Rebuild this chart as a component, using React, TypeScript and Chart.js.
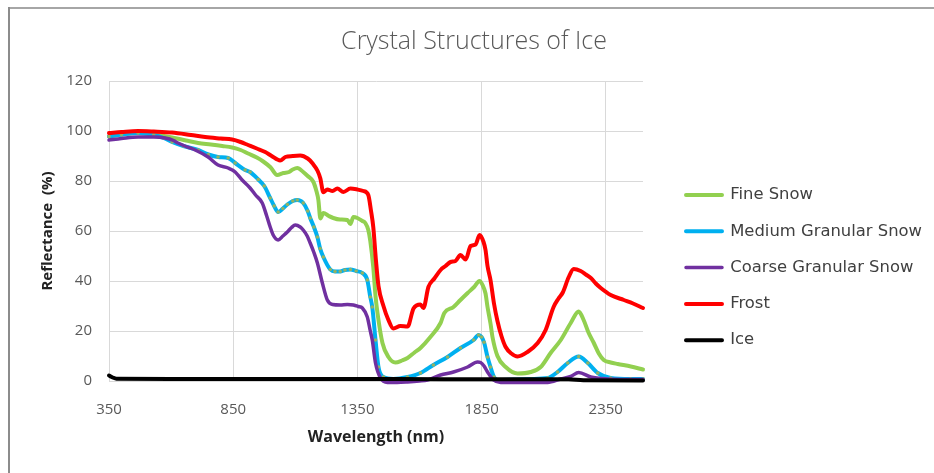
import { useEffect, useRef } from "react";
import { Chart, registerables } from "chart.js";

Chart.register(...registerables);

// Reflectance spectra, [wavelength nm, reflectance %]
const fineSnow: [number, number][] = [
  [350, 97.8], [400, 98.6], [467, 99.2], [530, 98.6], [604, 97.4], [660, 96.2], [709, 95.2], [760, 94.6],
  [806, 94], [846, 93.4], [880, 92.4], [910, 91], [945, 89.4], [971, 87.8], [1000, 85.5], [1027, 82.4],
  [1052, 83.2], [1075, 83.6], [1090, 84.6], [1108, 85.2], [1132, 83.6], [1150, 82], [1173, 79.6], [1185, 76],
  [1193, 72.4], [1201, 65], [1213, 67.2], [1235, 66], [1253, 65.2], [1280, 64.6], [1310, 64.4], [1322, 62.8],
  [1334, 65.6], [1350, 65.2], [1370, 64], [1382, 63.2], [1394, 60.4], [1402, 56], [1414, 45.6], [1423, 34],
  [1431, 27.2], [1451, 15.2], [1475, 9.6], [1503, 7.4], [1530, 8.2], [1552, 9.2], [1580, 11.4], [1604, 13.2],
  [1644, 17.6], [1685, 23.2], [1700, 27.2], [1737, 29.6], [1765, 32.4], [1794, 35.2], [1820, 37.6], [1842, 40],
  [1854, 38.4], [1866, 35], [1874, 29.6], [1886, 23], [1894, 17.6], [1914, 10], [1947, 5.6], [1995, 3],
  [2048, 3.6], [2088, 5.6], [2128, 11.2], [2169, 16.4], [2209, 23.2], [2241, 27.8], [2261, 24.4], [2280, 19.5],
  [2302, 15.2], [2322, 11], [2342, 8.4], [2370, 7.4], [2398, 6.8], [2451, 5.8], [2500, 4.6],
];

const mediumGranularSnow: [number, number][] = [
  [350, 97.8], [400, 98.6], [467, 99.2], [530, 98.4], [570, 97.2], [604, 95.6], [650, 94], [709, 92.4],
  [750, 90.6], [789, 89.6], [830, 89.2], [858, 87.2], [898, 84.4], [918, 83.6], [951, 80.6], [975, 78],
  [999, 73.2], [1015, 70], [1031, 67.6], [1050, 69], [1068, 70.6], [1090, 72], [1108, 72.4], [1132, 71.2],
  [1150, 68], [1160, 65.2], [1175, 61.6], [1189, 57.6], [1200, 53], [1213, 49.6], [1241, 44.6], [1260, 43.8],
  [1281, 43.8], [1300, 44.4], [1322, 44.6], [1345, 44], [1370, 43.2], [1390, 40.4], [1402, 33.6], [1410, 29.6],
  [1423, 16.4], [1435, 5.6], [1455, 1.6], [1495, 0.8], [1552, 1.6], [1604, 3.2], [1656, 6.4], [1713, 9.6],
  [1765, 13.2], [1818, 16.4], [1838, 18.4], [1850, 17.6], [1860, 15.5], [1874, 9.6], [1886, 5.6], [1900, 1.6],
  [1915, 0.4], [1979, 0.6], [2050, 0.8], [2116, 1.2], [2156, 3.6], [2197, 7.2], [2241, 9.8], [2278, 7.2],
  [2318, 3.2], [2370, 1.2], [2450, 0.8], [2500, 0.8],
];

const coarseGranularSnow: [number, number][] = [
  [350, 96.4], [400, 97], [467, 97.6], [530, 97.6], [576, 97.2], [610, 96.2], [628, 95.2], [660, 93.8],
  [697, 92.4], [749, 89.6], [789, 86.4], [830, 85.2], [858, 83.6], [886, 80.4], [918, 77.2], [940, 74.4],
  [967, 71.2], [985, 66], [999, 61.6], [1011, 58.4], [1031, 56.4], [1050, 58], [1068, 59.6], [1085, 61.4],
  [1100, 62.4], [1120, 61.6], [1132, 60.4], [1148, 58], [1160, 55.2], [1175, 51.4], [1189, 47.2], [1209, 39.2],
  [1229, 32.4], [1250, 30.6], [1281, 30.4], [1310, 30.6], [1334, 30.4], [1354, 29.8], [1370, 29.2], [1390, 25.6],
  [1402, 20], [1410, 16.4], [1423, 7.2], [1443, 1.2], [1471, -0.6], [1510, -0.6], [1552, -0.4], [1600, 0],
  [1632, 0.4], [1685, 2.4], [1737, 3.6], [1794, 5.6], [1834, 7.6], [1846, 7.4], [1860, 6], [1874, 3.6],
  [1898, 0.4], [1927, -0.6], [2000, -0.6], [2116, -0.6], [2169, 0.8], [2209, 1.8], [2241, 3.4], [2290, 1.6],
  [2358, 0.8], [2430, 0.6], [2500, 0.6],
];

const frost: [number, number][] = [
  [350, 99.2], [400, 99.6], [467, 100], [530, 99.8], [604, 99.4], [680, 98.4], [737, 97.6], [800, 97],
  [846, 96.6], [880, 95.6], [910, 94.4], [945, 93], [979, 91.6], [1005, 90], [1039, 88.2], [1060, 89.6],
  [1090, 90], [1120, 90.2], [1150, 89], [1170, 87], [1190, 84], [1201, 81], [1213, 75.5], [1229, 76.6],
  [1250, 76], [1269, 77], [1294, 75.6], [1322, 77], [1350, 76.6], [1374, 76], [1394, 74.4], [1405, 68],
  [1414, 61.6], [1425, 48], [1435, 38], [1455, 30], [1475, 24.4], [1495, 21], [1523, 22], [1552, 21.8],
  [1576, 29], [1604, 30.6], [1616, 29.2], [1636, 37.6], [1660, 41], [1685, 44.4], [1705, 46], [1725, 47.6],
  [1745, 48], [1765, 50.4], [1786, 48.6], [1806, 54], [1826, 54.6], [1842, 58.4], [1858, 55.6], [1866, 52.4],
  [1874, 46], [1886, 40.4], [1900, 31], [1914, 24], [1930, 18], [1947, 13.6], [1970, 11], [1995, 9.8],
  [2035, 11.6], [2076, 15.2], [2108, 20.4], [2140, 29.6], [2160, 33], [2177, 35.4], [2201, 41.6], [2221, 44.8],
  [2249, 44], [2270, 42.6], [2290, 41.2], [2310, 39], [2330, 37.2], [2370, 34.4], [2423, 32.4], [2460, 31],
  [2500, 29.2],
];

const ice: [number, number][] = [
  [350, 2.2], [365, 1.4], [380, 0.9], [600, 0.8], [1000, 0.8], [1500, 0.8], [1900, 0.7], [2200, 0.7],
  [2260, 0.3], [2500, 0.2],
];

const xTicks = [350, 850, 1350, 1850, 2350];
const yTicks = [0, 20, 40, 60, 80, 100, 120];

const TICK_FONT = { family: "'Open Sans', sans-serif", size: 15 };
const AXIS_TITLE_FONT = { family: "'Open Sans', sans-serif", weight: "bold" as const };

// Border frame + white background
const framePlugin = {
  id: "frame",
  beforeDraw(chart: Chart) {
    const { ctx, width, height } = chart;
    ctx.save();
    ctx.fillStyle = "#ffffff";
    ctx.fillRect(0, 0, width, height);
    ctx.fillStyle = "#a6a6a6";
    ctx.fillRect(8, 7, width - 8, 2);
    ctx.fillStyle = "#8c8c8c";
    ctx.fillRect(8, 7, 2, height - 7);
    ctx.restore();
  },
};

// Places the legend column and centres the title over the whole frame
const placementPlugin = {
  id: "placement",
  afterLayout(chart: any) {
    const lg = chart.legend;
    if (lg) {
      const pad = lg.options.labels.padding;
      lg.left = 686 - pad;
      lg.right = chart.width;
      lg.width = lg.right - lg.left;
      lg.top = 166.9;
      lg.bottom = chart.height;
      lg.height = lg.bottom - lg.top;
    }
    const tb = chart.titleBlock;
    if (tb) {
      tb.left = 14;
      tb.right = chart.width;
    }
  },
};

function series(label: string, points: [number, number][], color: string, width: number, extra: any = {}) {
  return {
    label,
    data: points.map(([x, y]) => ({ x, y })),
    borderColor: color,
    backgroundColor: color,
    borderWidth: width,
    borderCapStyle: "round",
    borderJoinStyle: "round",
    pointRadius: 0,
    cubicInterpolationMode: "monotone",
    clip: false,
    ...extra,
  };
}

export default function App() {
  const canvasRef = useRef<HTMLCanvasElement | null>(null);

  useEffect(() => {
    document.body.style.margin = "0";
    const canvas = canvasRef.current;
    if (!canvas) return;
    const chart = new Chart(canvas, {
      type: "line",
      data: {
        datasets: [
          series("Fine Snow", fineSnow, "#92d050", 4, { order: 5 }),
          series("Medium Granular Snow", mediumGranularSnow, "#00b0f0", 4, {
            order: 4,
            pointRadius: 1.8,
            pointBackgroundColor: "#93b263",
            pointBorderWidth: 0,
          }),
          series("Coarse Granular Snow", coarseGranularSnow, "#7030a0", 3.5, { order: 3 }),
          series("Frost", frost, "#ff0000", 4, { order: 2 }),
          series("Ice", ice, "#000000", 4, { order: 1 }),
        ] as any,
      },
      options: {
        responsive: false,
        animation: false,
        devicePixelRatio: 1,
        layout: { padding: { left: 0, right: 51, top: 0, bottom: 0 } },
        plugins: {
          title: {
            display: true,
            text: "Crystal Structures of Ice",
            color: "#595959",
            font: { family: "'Open Sans', sans-serif", size: 25, weight: 300 as any },
            padding: { top: 27, bottom: 24 },
          },
          legend: {
            display: true,
            position: "right",
            align: "start",
            fullSize: false,
            maxWidth: 240,
            labels: {
              boxWidth: 36,
              boxHeight: 0,
              padding: 19.9,
              color: "#404040",
              font: { family: "'DejaVu Sans', sans-serif", size: 16.4 },
              sort: (a: any, b: any) => a.datasetIndex - b.datasetIndex,
            },
          },
          tooltip: { enabled: false },
        },
        scales: {
          x: {
            type: "linear",
            min: 350,
            max: 2500,
            afterBuildTicks: (scale: any) => {
              scale.ticks = xTicks.map((value) => ({ value }));
            },
            afterFit: (scale: any) => {
              scale.height = 92;
            },
            grid: { color: "#d9d9d9", lineWidth: 1, drawTicks: false },
            border: { color: "#d9d9d9" },
            ticks: {
              color: "#595959",
              font: TICK_FONT,
              padding: 20,
              maxRotation: 0,
              autoSkip: false,
              callback: (value: any) => String(value),
            },
            title: {
              display: true,
              text: "Wavelength (nm)",
              color: "#222222",
              font: { ...AXIS_TITLE_FONT, size: 16 },
              padding: { top: 0, bottom: 26.4 },
            },
          },
          y: {
            type: "linear",
            min: 0,
            max: 120,
            afterBuildTicks: (scale: any) => {
              scale.ticks = yTicks.map((value) => ({ value }));
            },
            afterFit: (scale: any) => {
              scale.width = 109;
            },
            grid: { color: "#d9d9d9", lineWidth: 1, drawTicks: false },
            border: { color: "#d9d9d9" },
            ticks: { color: "#595959", font: TICK_FONT, padding: 17, callback: (value: any) => String(value) },
            title: {
              display: true,
              text: "Reflectance  (%)",
              color: "#222222",
              font: { ...AXIS_TITLE_FONT, size: 15 },
              padding: { top: 39, bottom: 0 },
            },
          },
        },
      },
      plugins: [framePlugin, placementPlugin],
    });
    return () => chart.destroy();
  }, []);

  return (
    <div style={{ position: "fixed", left: 0, top: 0, width: 934, height: 473 }}>
      <canvas ref={canvasRef} width={934} height={473} style={{ display: "block", width: 934, height: 473 }} />
    </div>
  );
}
